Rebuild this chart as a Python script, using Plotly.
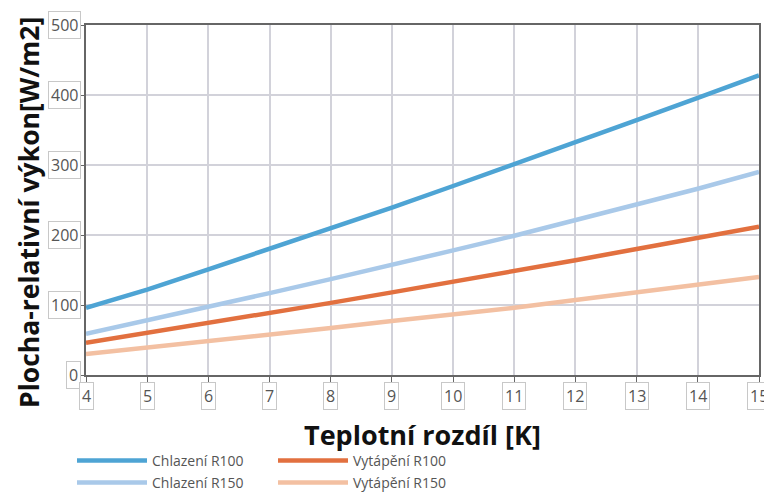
import plotly.graph_objects as go

x_vals = [4, 5, 6, 7, 8, 9, 10, 11, 12, 13, 14, 15]
chlazeni_r100 = [96, 122, 151, 180, 209, 239, 270, 301, 332, 364, 396, 428]
chlazeni_r150 = [59, 78, 98, 117, 137, 157, 178, 199, 221, 243, 266, 290]
vytapeni_r100 = [46, 60, 74, 88, 103, 118, 133, 148, 164, 180, 196, 212]
vytapeni_r150 = [30, 39, 49, 58, 67, 77, 86, 96, 107, 118, 129, 140]

x_ticks = list(range(4, 16))
y_ticks = [0, 100, 200, 300, 400, 500]

# page body has an 8px default margin: figure pixel = screen pixel - OFF
OFF = 8
W, H = 772 - OFF, 492 - OFF
left, top, right, bottom = 86 - OFF, 25 - OFF, 759 - OFF, 375 - OFF
ml, mt = left, top
mr, mb = W - right, H - bottom
pw = W - ml - mr
ph = H - mt - mb


def px_x(sx):
    return (sx - OFF - left) / pw


def px_y(sy):
    return (bottom - (sy - OFF)) / ph


# legend placement (screen pixel left of legend box, screen pixel row center)
series = [
    ("Chlazení R100", chlazeni_r100, "#4ea4d4", "legend", 72, 461),
    ("Chlazení R150", chlazeni_r150, "#a9c9e9", "legend2", 72, 483),
    ("Vytápění R100", vytapeni_r100, "#e2703f", "legend3", 273, 461),
    ("Vytápění R150", vytapeni_r150, "#f3c0a2", "legend4", 273, 483),
]

fig = go.Figure()
leg_font = dict(family="Open Sans, sans-serif", size=14, color="#555")
legends = {}
for name, ys, color, lg, lx, ly in series:
    fig.add_trace(go.Scatter(x=x_vals, y=ys, name=name, mode="lines",
                             line=dict(color=color, width=4.5), legend=lg,
                             cliponaxis=False))
    legends[lg] = dict(x=px_x(lx), xref="paper", xanchor="left",
                       y=(H - (ly - OFF)) / H, yref="container", yanchor="middle",
                       font=leg_font, bgcolor="rgba(0,0,0,0)", itemwidth=70)

tick_font = dict(family="Open Sans, sans-serif", size=16, color="#555")
annotations = []
for v in y_ticks:
    annotations.append(dict(x=0, xref="paper", y=v, yref="y", text=str(v),
                            xanchor="right", yanchor="middle", xshift=-5,
                            showarrow=False, font=tick_font,
                            bordercolor="#c8c8c8", borderwidth=1, borderpad=2,
                            bgcolor="white"))
for v in x_ticks:
    annotations.append(dict(x=v, xref="x", y=0, yref="paper", text=str(v),
                            xanchor="center", yanchor="top", yshift=-7,
                            showarrow=False, font=tick_font,
                            bordercolor="#c8c8c8", borderwidth=1, borderpad=2,
                            bgcolor="white"))

annotations.append(dict(x=px_x(422), xref="paper", y=px_y(434), yref="paper",
                        text="<b>Teplotní rozdíl [K]</b>", showarrow=False,
                        xanchor="center", yanchor="middle",
                        font=dict(family="Open Sans, sans-serif", size=27, color="#111")))
annotations.append(dict(x=px_x(29), xref="paper", y=px_y(213), yref="paper",
                        text="<b>Plocha-relativní výkon[W/m2]</b>", showarrow=False,
                        textangle=-90, xanchor="center", yanchor="middle",
                        font=dict(family="Open Sans, sans-serif", size=26.5, color="#111")))

fig.update_layout(
    width=W, height=H,
    margin=dict(l=ml, r=mr, t=mt, b=mb, autoexpand=False),
    paper_bgcolor="white", plot_bgcolor="white",
    xaxis=dict(range=[4, 15], tickvals=x_ticks, showticklabels=False,
               ticks="outside", ticklen=7, tickcolor="#666",
               showgrid=True, gridcolor="#d2d2da", gridwidth=1.5,
               showline=True, linecolor="#666", linewidth=1.5, mirror=True,
               zeroline=False),
    yaxis=dict(range=[0, 500], tickvals=y_ticks, showticklabels=False,
               ticks="outside", ticklen=5, tickcolor="#666",
               showgrid=True, gridcolor="#d2d2da", gridwidth=1.5,
               showline=True, linecolor="#666", linewidth=1.5, mirror=True,
               zeroline=False),
    annotations=annotations,
    showlegend=True,
    **legends,
)

fig.write_html("out.html")
